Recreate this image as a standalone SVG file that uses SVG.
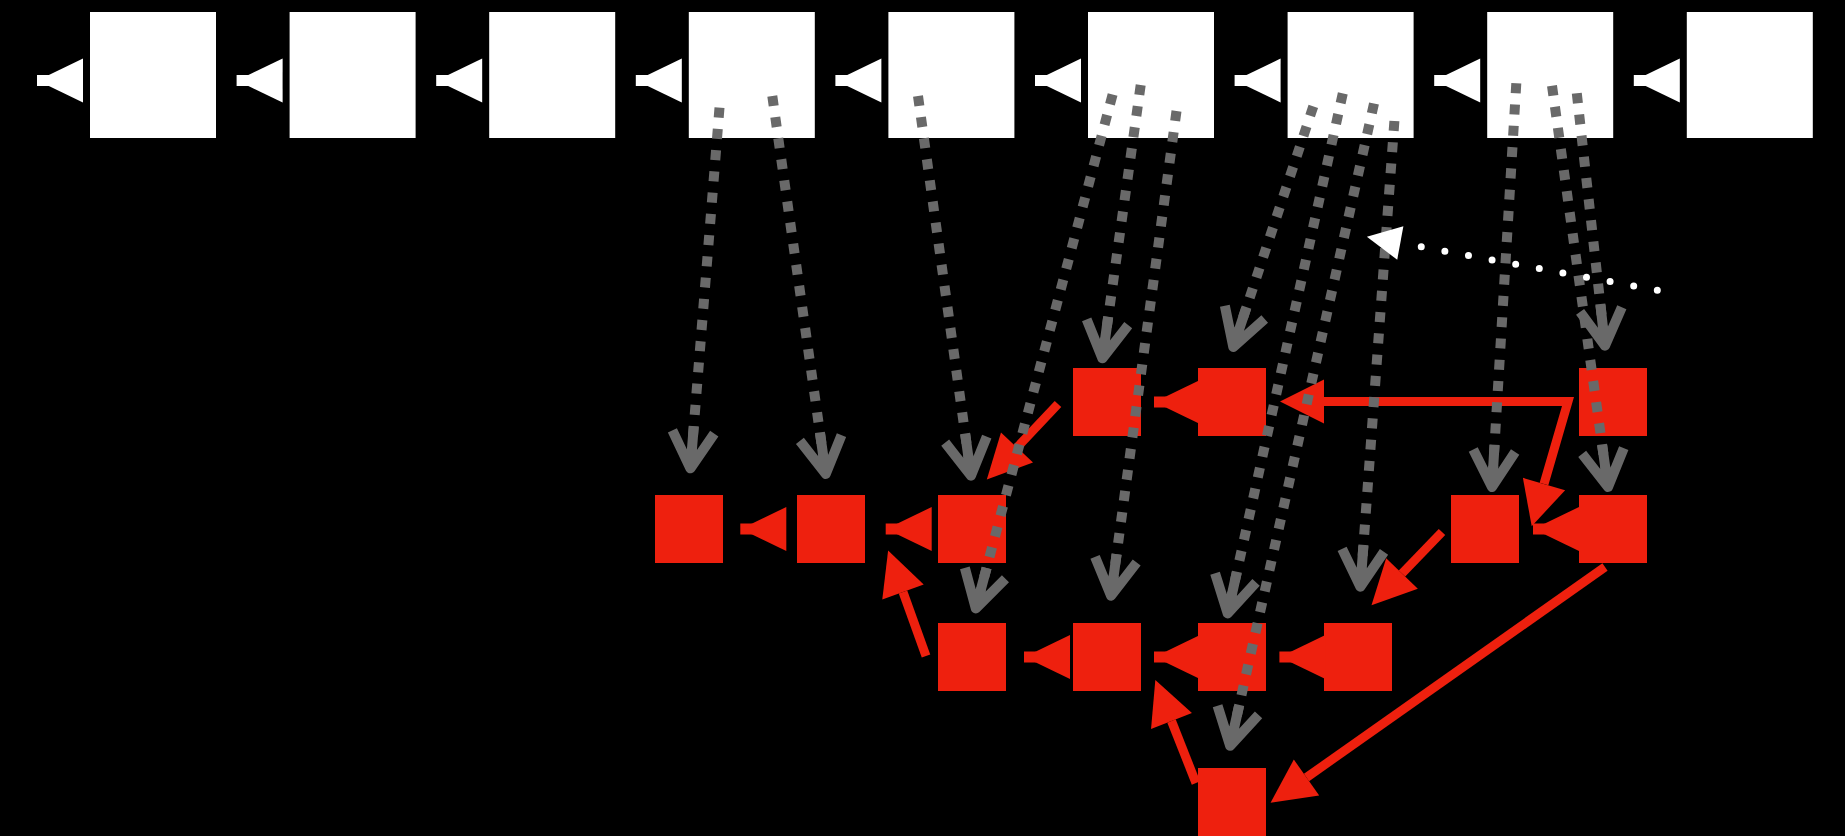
<svg xmlns="http://www.w3.org/2000/svg" width="1845" height="836" viewBox="0 0 1845 836">
  <style>
    .top { fill: #ffffff; }
    .node { fill: #ee200e; }
    .dep { fill: none; stroke: #696969; stroke-width: 10; stroke-dasharray: 10 11.3; marker-end: url(#gray-head); }
    .link { fill: none; stroke: #ee200e; stroke-width: 9; marker-end: url(#red-head); }
    .hint { fill: none; stroke: #ffffff; stroke-width: 7; stroke-linecap: round; stroke-dasharray: 0 24; marker-end: url(#white-head); }
  </style>
  <defs>
    <!-- open gray arrowhead with a short solid shaft -->
    <marker id="gray-head" markerUnits="userSpaceOnUse" orient="auto" refX="0" refY="0" markerWidth="1" markerHeight="1" overflow="visible">
      <path d="M-36.4,-21 L0,0 L-36.4,21 M-42,0 L0,0" fill="none" stroke="#696969" stroke-width="10" stroke-dasharray="none" stroke-linejoin="round" stroke-linecap="butt"/>
    </marker>
    <!-- solid red head, line ends at its base -->
    <marker id="red-head" markerUnits="userSpaceOnUse" orient="auto-start-reverse" refX="0" refY="0" markerWidth="1" markerHeight="1" overflow="visible">
      <path d="M0,-22 L44,0 L0,22 Z" fill="#ee200e"/>
    </marker>
    <marker id="white-head" markerUnits="userSpaceOnUse" orient="auto" refX="0" refY="0" markerWidth="1" markerHeight="1" overflow="visible">
      <path d="M0,-17 L34,0 L0,17 Z" fill="#ffffff"/>
    </marker>
    <!-- short left-pointing link: stub running into a triangle -->
    <g id="tail">
      <rect x="0" y="-5.5" width="12.5" height="11"/>
      <path d="M0.5,0 L46,-22 L46,22 Z"/>
    </g>
  </defs>

  <rect width="1845" height="836" fill="#000000"/>

  <!-- top row -->
  <g id="t1"><rect class="top" x="90" y="12" width="126" height="126"/></g>
  <g id="t2"><rect class="top" x="289.6" y="12" width="126" height="126"/></g>
  <g id="t3"><rect class="top" x="489.2" y="12" width="126" height="126"/></g>
  <g id="t4"><rect class="top" x="688.8" y="12" width="126" height="126"/></g>
  <g id="t5"><rect class="top" x="888.4" y="12" width="126" height="126"/></g>
  <g id="t6"><rect class="top" x="1088" y="12" width="126" height="126"/></g>
  <g id="t7"><rect class="top" x="1287.6" y="12" width="126" height="126"/></g>
  <g id="t8"><rect class="top" x="1487.2" y="12" width="126" height="126"/></g>
  <g id="t9"><rect class="top" x="1686.8" y="12" width="126" height="126"/></g>

  <!-- red nodes -->
  <g id="nA"><rect class="node" x="1073" y="368" width="68" height="68"/></g>
  <g id="nB"><rect class="node" x="1198" y="368" width="68" height="68"/></g>
  <g id="nC"><rect class="node" x="1579" y="368" width="68" height="68"/></g>
  <g id="nD"><rect class="node" x="655" y="495" width="68" height="68"/></g>
  <g id="nE"><rect class="node" x="797" y="495" width="68" height="68"/></g>
  <g id="nF"><rect class="node" x="938" y="495" width="68" height="68"/></g>
  <g id="nG"><rect class="node" x="1451" y="495" width="68" height="68"/></g>
  <g id="nH"><rect class="node" x="1579" y="495" width="68" height="68"/></g>
  <g id="nI"><rect class="node" x="938" y="623" width="68" height="68"/></g>
  <g id="nJ"><rect class="node" x="1073" y="623" width="68" height="68"/></g>
  <g id="nK"><rect class="node" x="1198" y="623" width="68" height="68"/></g>
  <g id="nL"><rect class="node" x="1324" y="623" width="68" height="68"/></g>
  <g id="nM"><rect class="node" x="1198" y="768" width="68" height="68"/></g>

  <g id="connectors">
    <!-- chain links along the top row -->
    <g fill="#ffffff">
      <use href="#tail" x="37" y="80.5"/>
      <use href="#tail" x="236.6" y="80.5"/>
      <use href="#tail" x="436.2" y="80.5"/>
      <use href="#tail" x="635.8" y="80.5"/>
      <use href="#tail" x="835.4" y="80.5"/>
      <use href="#tail" x="1035" y="80.5"/>
      <use href="#tail" x="1234.6" y="80.5"/>
      <use href="#tail" x="1434.2" y="80.5"/>
      <use href="#tail" x="1633.8" y="80.5"/>
    </g>

    <!-- chain links between red nodes -->
    <g fill="#ee200e">
      <use href="#tail" x="740.3" y="529"/>
      <use href="#tail" x="885.7" y="529"/>
      <use href="#tail" x="1533" y="529"/>
      <use href="#tail" x="1154" y="402"/>
      <use href="#tail" x="1024" y="657"/>
      <use href="#tail" x="1154" y="657"/>
      <use href="#tail" x="1279.4" y="657"/>
    </g>

    <!-- red links -->
    <path class="link" d="M1544,484 L1568,401.5 L1324,401.5" style="marker-start: url(#red-head)"/>
    <path class="link" d="M1058,404 L1017,447.5"/>
    <path class="link" d="M926,656 L903,592"/>
    <path class="link" d="M1196,783 L1171.5,721"/>
    <path class="link" d="M1605,567 L1306.5,777.5"/>
    <path class="link" d="M1442,532 L1402,573.5"/>

    <!-- dotted gray dependencies -->
    <path class="dep" d="M719.5,107.7 L690.4,468.3"/>
    <path class="dep" d="M772.3,96 L825.8,474"/>
    <path class="dep" d="M918,96 L971,475.7"/>
    <path class="dep" d="M1112.6,94.5 L975.8,608.5"/>
    <path class="dep" d="M1140.7,85 L1102.4,358.3"/>
    <path class="dep" d="M1176.5,111 L1111,595.7"/>
    <path class="dep" d="M1313.3,106.3 L1233.3,347"/>
    <path class="dep" d="M1342.8,93.4 L1227.7,613.4"/>
    <path class="dep" d="M1374,103.5 L1230.1,745.8"/>
    <path class="dep" d="M1394.4,121 L1360.4,586.7"/>
    <path class="dep" d="M1516.3,83.3 L1492,487"/>
    <path class="dep" d="M1552,85.7 L1608,487"/>
    <path class="dep" d="M1576.8,93.3 L1605,345.7"/>

    <!-- white dotted pointer -->
    <path class="hint" d="M1657.3,290.3 L1400.3,243"/>
  </g>
</svg>
